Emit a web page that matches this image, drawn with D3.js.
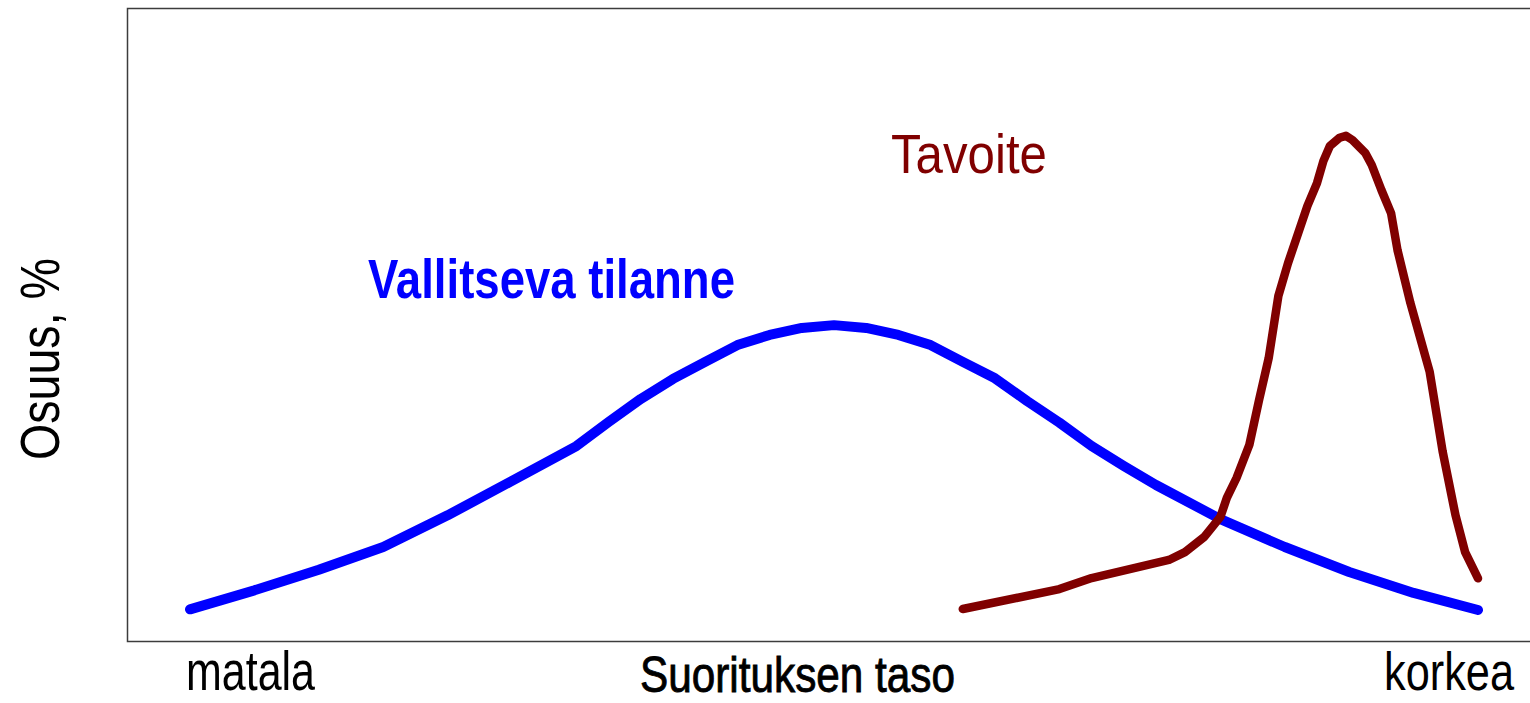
<!DOCTYPE html>
<html>
<head>
<meta charset="utf-8">
<script src="https://cdn.jsdelivr.net/npm/d3@7"></script>
<style>
  body { margin: 0; background: #fff; }
  text { font-family: "Liberation Sans Narrow", "Arial Narrow", "Liberation Sans", sans-serif; }
</style>
</head>
<body>
<div id="chart"></div>
<script>
"use strict";

// performance level (0 = matala, 40 = korkea) and share in %
var blue_x = [0, 2, 4, 6, 8, 10, 12, 13, 14, 15, 16, 17, 18, 19, 20, 21, 22, 23, 24, 25, 26, 27, 28, 29, 30, 32, 34, 36, 38, 40];
var blue_y = [1.0, 1.6, 2.25, 2.97, 3.97, 5.06, 6.16, 6.92, 7.65, 8.28, 8.82, 9.35, 9.67, 9.89, 9.98, 9.89, 9.67, 9.35, 8.82, 8.3, 7.58, 6.9, 6.16, 5.53, 4.93, 3.85, 2.97, 2.18, 1.52, 0.98];

var red_x = [24, 27, 28, 30.4, 30.9, 31.5, 32.0, 32.2, 32.5, 32.9, 33.2, 33.5, 33.8, 34.1, 34.7, 35.0, 35.2, 35.4, 35.7, 35.9, 36.1, 36.5, 36.7, 37.0, 37.3, 37.5, 37.9, 38.5, 38.9, 39.3, 39.6, 40];
var red_y = [1.01, 1.64, 1.99, 2.56, 2.81, 3.29, 3.92, 4.52, 5.15, 6.2, 7.61, 8.94, 10.9, 11.94, 13.74, 14.47, 15.17, 15.64, 15.9, 15.96, 15.83, 15.42, 15.04, 14.25, 13.52, 12.35, 10.68, 8.5, 6.0, 3.98, 2.81, 1.98];

var series_names = ["Vallitseva tilanne", "Tavoite"];
var series_colors = ["#0000ff", "#800000"];
var axis_labels = ["matala", "korkea"];
var x_title = "Suorituksen taso";
var y_title = "Osuus, %";

var width = 1530, height = 703;

var svg = d3.select("#chart")
            .append("svg")
            .attr("width", width)
            .attr("height", height);

var x = d3.scaleLinear()
          .domain([0, 40])
          .range([190, 1478]);

var y = d3.scaleLinear()
          .domain([0, 20])
          .range([641, 8]);

// plot frame (right edge falls outside the picture)
svg.append("rect")
   .attr("x", 127.5)
   .attr("y", 8.5)
   .attr("width", 1410)
   .attr("height", 633)
   .attr("fill", "none")
   .attr("stroke", "#3c3c3c")
   .attr("stroke-width", 1.5);

var line = d3.line()
             .x(function (d) { return x(d.x); })
             .y(function (d) { return y(d.y); });

var series = [
  { name: series_names[0], color: series_colors[0], w: 10,
    values: blue_x.map(function (v, i) { return { x: v, y: blue_y[i] }; }) },
  { name: series_names[1], color: series_colors[1], w: 8.5,
    values: red_x.map(function (v, i) { return { x: v, y: red_y[i] }; }) }
];

svg.append("g")
   .attr("class", "lines")
   .selectAll("path")
   .data(series)
   .enter()
   .append("path")
   .attr("d", function (d) { return line(d.values); })
   .attr("fill", "none")
   .attr("stroke", function (d) { return d.color; })
   .attr("stroke-width", function (d) { return d.w; })
   .attr("stroke-linecap", "round")
   .attr("stroke-linejoin", "round");

function label(txt, px, py, size, len, opts) {
  var t = svg.append("text")
             .attr("x", px)
             .attr("y", py)
             .attr("font-size", size)
             .attr("textLength", len)
             .attr("lengthAdjust", "spacingAndGlyphs")
             .attr("text-anchor", opts.anchor || "start")
             .attr("fill", opts.color || "#000")
             .attr("font-weight", opts.weight || "normal")
             .text(txt);
  if (opts.stroke) t.attr("stroke", opts.color || "#000").attr("stroke-width", opts.stroke);
  if (opts.transform) t.attr("transform", opts.transform);
  return t;
}

// series labels
label(series_names[0], 368, 298, 56, 367, { color: series_colors[0], weight: "bold" });
label(series_names[1], 891, 173, 56, 156, { color: series_colors[1] });

// axis end labels and titles
label(axis_labels[0], 186, 690, 55, 129, {});
label(axis_labels[1], 1514, 690, 53, 130, { anchor: "end" });
label(x_title, 640, 692, 50, 315, { stroke: 0.9 });
label(y_title, 0, 0, 56, 202, { transform: "translate(59,460) rotate(-90)" });
</script>
</body>
</html>
